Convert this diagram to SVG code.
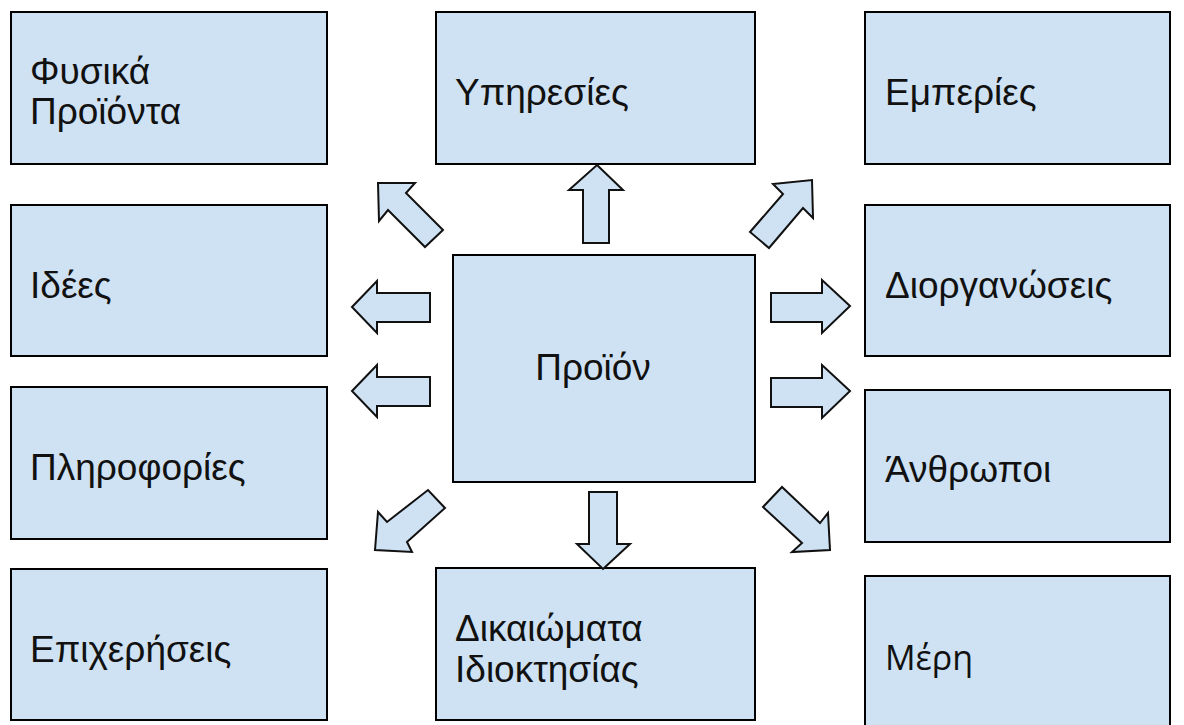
<svg xmlns="http://www.w3.org/2000/svg" width="1184" height="725" viewBox="0 0 1184 725">
<style>
.box{fill:#cfe2f3;stroke:#000;stroke-width:2}
.arr{fill:#cfe2f3;stroke:#111;stroke-width:2;stroke-linejoin:miter}
.t{font-family:"Liberation Sans",Arial,sans-serif;font-size:37px;fill:#111}
.t2{font-family:"Open Sans","Noto Sans",sans-serif;font-size:34px;fill:#111}
</style>
<rect width="1184" height="725" fill="#fff"/>
<g id="n-fysika"><rect class="box" x="11" y="12" width="316" height="152"/><text class="t" x="30" y="84">Φυσικά</text><text class="t" x="30" y="124">Προϊόντα</text></g>
<g id="n-ypiresies"><rect class="box" x="436" y="12" width="319" height="152"/><text class="t" x="455" y="105">Υπηρεσίες</text></g>
<g id="n-emperies"><rect class="box" x="865" y="12" width="305" height="152"/><text class="t" x="885" y="105">Εμπερίες</text></g>
<g id="n-idees"><rect class="box" x="11" y="205" width="316" height="151"/><text class="t" x="30" y="298">Ιδέες</text></g>
<g id="n-diorganoseis"><rect class="box" x="865" y="205" width="305" height="151"/><text class="t" x="885" y="298">Διοργανώσεις</text></g>
<g id="n-proion"><rect class="box" x="453" y="255" width="302" height="227"/><text class="t" x="593" y="380" text-anchor="middle">Προϊόν</text></g>
<g id="n-plirofories"><rect class="box" x="11" y="387" width="316" height="152"/><text class="t" x="30" y="480">Πληροφορίες</text></g>
<g id="n-anthropoi"><rect class="box" x="865" y="390" width="305" height="152"/><text class="t" x="885" y="482">Άνθρωποι</text></g>
<g id="n-epixeriseis"><rect class="box" x="11" y="569" width="316" height="151"/><text class="t" x="30" y="662">Επιχερήσεις</text></g>
<g id="n-dikaiomata"><rect class="box" x="436" y="568" width="319" height="152"/><text class="t" x="455" y="641">Δικαιώματα</text><text class="t" x="455" y="682">Ιδιοκτησίας</text></g>
<g id="n-meri"><rect class="box" x="865" y="576" width="305" height="160"/><text class="t2" x="885" y="670">Μέρη</text></g>
<g id="connectors">
<polygon class="arr" points="597,165 623,190 609,190 609,243 583,243 583,190 569,190"/>
<polygon class="arr" points="603,569 630,544 617,544 617,492 589,492 589,544 577,544"/>
<polygon class="arr" points="352,307 377,281 377,293 430,293 430,322 377,322 377,333"/>
<polygon class="arr" points="352,391 377,365 377,377 430,377 430,406 377,406 377,417"/>
<polygon class="arr" points="850,306 822,280 822,293 771,293 771,322 822,322 822,333"/>
<polygon class="arr" points="850,391 822,365 822,378 771,378 771,407 822,407 822,418"/>
<polygon class="arr" points="378,183 415,183 406,193 443,230 425,247 388,210 379,221"/>
<polygon class="arr" points="812,180 813,218 803,208 769,248 750,232 783,194 773,184"/>
<polygon class="arr" points="375,550 378,512 387,522 428,490 445,508 407,542 412,552"/>
<polygon class="arr" points="830,550 828,513 820,523 782,487 763,507 802,543 792,552"/>
</g>
</svg>
